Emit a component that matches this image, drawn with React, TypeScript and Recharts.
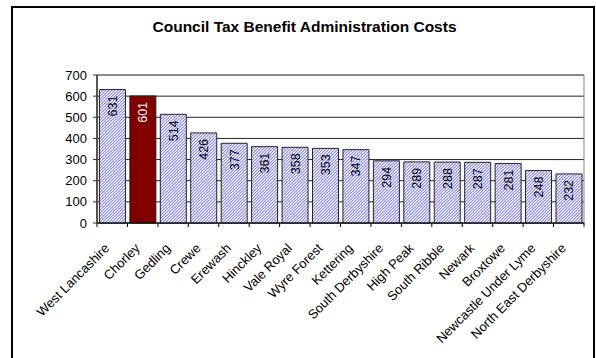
import React from 'react';
import { BarChart, Bar, XAxis, YAxis, CartesianGrid, ReferenceArea, Cell, LabelList } from 'recharts';

const councils = [
  'West Lancashire', 'Chorley', 'Gedling', 'Crewe', 'Erewash', 'Hinckley', 'Vale Royal', 'Wyre Forest',
  'Kettering', 'South Derbyshire', 'High Peak', 'South Ribble', 'Newark', 'Broxtowe',
  'Newcastle Under Lyme', 'North East Derbyshire',
];
const costs = [631, 601, 514, 426, 377, 361, 358, 353, 347, 294, 289, 288, 287, 281, 248, 232];
const highlighted = 'Chorley';
const yTicks = [0, 100, 200, 300, 400, 500, 600, 700];

const data = councils.map((name, i) => ({ name, value: costs[i] }));

const FONT = '"Liberation Sans", Arial, sans-serif';

// category labels at 45 degrees, with tick marks between the bars
const XTick = (props: any) => {
  const { x, y, payload, index, visibleTicksCount } = props;
  const off = payload.offset || 0;
  return (
    <g>
      <line x1={x - off} x2={x - off} y1={y} y2={y + 4} stroke="#000" />
      {index === visibleTicksCount - 1 && <line x1={x + off} x2={x + off} y1={y} y2={y + 4} stroke="#000" />}
      <text
        transform={`translate(${x - 2},${y + 26}) rotate(-45)`}
        textAnchor="end"
        fontSize={13}
        fontFamily={FONT}
        fill="#000"
      >
        {payload.value}
      </text>
    </g>
  );
};

const BarValue = (props: any) => {
  const { x, y, width, value, index } = props;
  const cx = x + width / 2 + 4.5;
  const ty = y + 6;
  return (
    <text
      transform={`translate(${cx},${ty}) rotate(-90)`}
      textAnchor="end"
      fontSize={12.5}
      fontFamily={FONT}
      fill={councils[index] === highlighted ? '#fff' : '#000'}
    >
      {value}
    </text>
  );
};

export default function App() {
  return (
    <div style={{ position: 'absolute', left: 0, top: 0, width: 596, height: 358, overflow: 'hidden', background: '#fff', fontFamily: FONT }}>
      <svg width={0} height={0} style={{ position: 'absolute' }}>
        <defs>
          <pattern id="hatch" width={3} height={3} patternUnits="userSpaceOnUse">
            <rect width={3} height={3} fill="#ffffff" />
            <rect x={0} y={0} width={1} height={1} fill="#8c8cf0" />
            <rect x={2} y={1} width={1} height={1} fill="#8c8cf0" />
            <rect x={1} y={2} width={1} height={1} fill="#8c8cf0" />
            <rect x={1} y={0} width={1} height={1} fill="#c4c4ff" />
            <rect x={0} y={1} width={1} height={1} fill="#c4c4ff" />
            <rect x={2} y={2} width={1} height={1} fill="#c4c4ff" />
          </pattern>
        </defs>
      </svg>
      <div style={{ position: 'absolute', left: 11, top: 6, width: 584, height: 400, border: '2px solid #000', boxSizing: 'border-box' }} />
      <div style={{ position: 'absolute', left: 0, top: 18, width: 609, textAlign: 'center', fontWeight: 'bold', fontSize: 15.5, color: '#000' }}>
        Council Tax Benefit Administration Costs
      </div>
      <div style={{ position: 'absolute', left: 0, top: 0 }}>
        <BarChart width={596} height={358} data={data} margin={{ top: 75, right: 12, left: 0, bottom: 0 }} barCategoryGap="8%">
          <CartesianGrid vertical={false} stroke="#222" />
          <ReferenceArea y1={0} y2={700} fill="none" stroke="#808080" />
          <XAxis
            dataKey="name"
            interval={0}
            height={135}
            tickLine={false}
            tickSize={0}
            tickMargin={0}
            axisLine={{ stroke: '#000' }}
            tick={<XTick />}
          />
          <YAxis
            width={97}
            domain={[0, 700]}
            ticks={yTicks}
            interval={0}
            tickSize={4}
            tickMargin={6}
            axisLine={{ stroke: '#555', strokeWidth: 2 }}
            tickLine={{ stroke: '#333' }}
            tick={{ fill: '#000', fontSize: 13, fontFamily: FONT }}
          />
          <Bar dataKey="value" stroke="#222" strokeWidth={1} isAnimationActive={false}>
            {data.map((d) => (
              <Cell key={d.name} fill={d.name === highlighted ? '#800000' : 'url(#hatch)'} />
            ))}
            <LabelList dataKey="value" content={<BarValue />} />
          </Bar>
        </BarChart>
      </div>
    </div>
  );
}
